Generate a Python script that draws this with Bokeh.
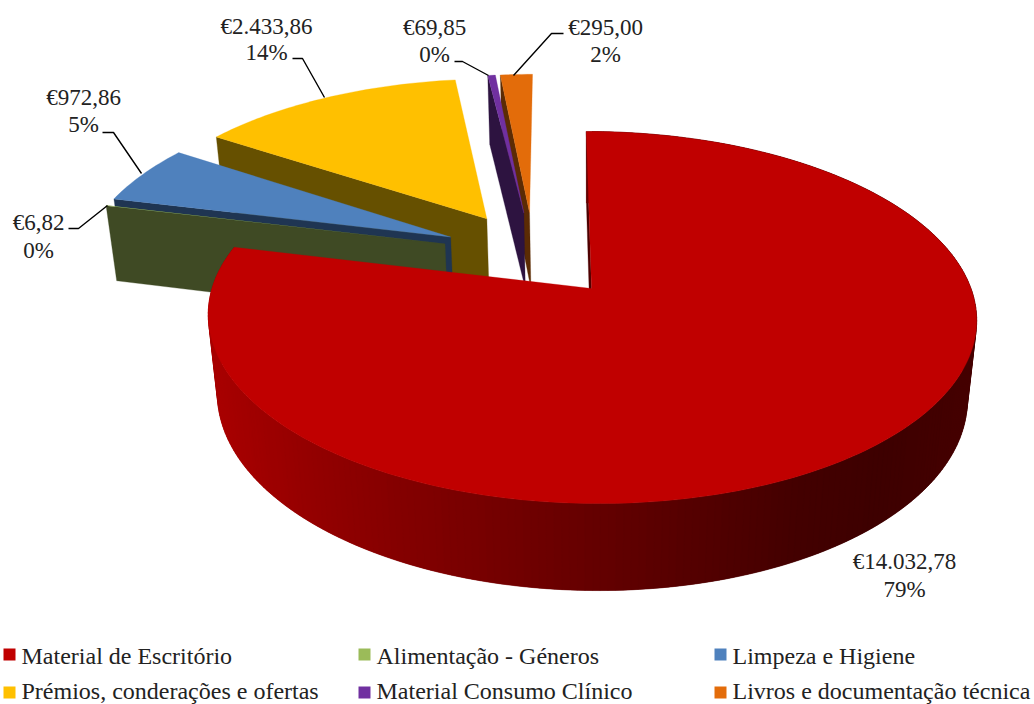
import math
from bokeh.plotting import figure
from bokeh.models import Range1d, ColumnDataSource
from bokeh.core.properties import value
from bokeh.embed import file_html
from bokeh.resources import INLINE

categories = ["Material de Escritório", "Alimentação - Géneros", "Limpeza e Higiene",
              "Prémios, conderações e ofertas", "Material Consumo Clínico", "Livros e documentação técnica"]
amounts = [14032.78, 6.82, 972.86, 2433.86, 69.85, 295.00]
amount_labels = ["€14.032,78", "€6,82", "€972,86", "€2.433,86", "€69,85", "€295,00"]
pct_labels = ["79%", "0%", "5%", "14%", "0%", "2%"]
top_colors = ["#C00000", "#9BBB59", "#4F81BD", "#FFC000", "#7030A0", "#E36C0A"]
wall_colors = ["#4d0000", "#3F4A24", "#1F3552", "#665000", "#2D1340", "#5B2B04"]

FONT = "Liberation Serif"
ROT, EXPLODE = 0.0, 0.25
CX, CY, RAD, PC, PA, SHEAR = 591.0, 288.0, 379.5, 0.156, -136.6, -6.0
T, VX, VY = 0.024, 590.0, 3650.0

def project(u, v):
    w = 1 + PC * v
    return CX + (RAD * u + SHEAR * v) / w, (PA * v + CY) / w, w

def top(pt):
    x, y, _ = project(*pt)
    return x, y

def bottom(pt):
    x, y, w = project(*pt)
    return (w * x + T * VX) / (w + T), (w * y + T * VY) / (w + T)

def polar(deg):
    r = math.radians(deg)
    return math.sin(r), math.cos(r)

total = sum(amounts)
spans, a0 = [], ROT
for val in amounts:
    a1 = a0 + 360 * val / total
    spans.append((a0, a1))
    a0 = a1

red_mid = polar(sum(spans[0]) / 2)
centre = (-EXPLODE * red_mid[0], -EXPLODE * red_mid[1])

def wedge_points(i):
    s, e = spans[i]
    d = polar((s + e) / 2)
    apex = (centre[0] + EXPLODE * d[0], centre[1] + EXPLODE * d[1])
    n = max(2, int((e - s) / 1.0) + 1)
    arc = []
    for k in range(n + 1):
        u, v = polar(s + (e - s) * k / n)
        arc.append((apex[0] + u, apex[1] + v))
    return apex, arc

STOPS = [(215, 168), (300, 150), (400, 132), (500, 116), (600, 100), (700, 84), (800, 68), (880, 62), (980, 70)]

def shade(x):
    for (x0, c0), (x1, c1) in zip(STOPS, STOPS[1:]):
        if x <= x1:
            f = max(0, (x - x0) / (x1 - x0))
            return "#%02x0000" % int(c0 + (c1 - c0) * f)
    return "#%02x0000" % STOPS[-1][1]

xs, ys, cols, lws = [], [], [], []

def add(pts, col, lw=0.3):
    xs.append([q[0] for q in pts])
    ys.append([q[1] for q in pts])
    cols.append(col)
    lws.append(lw)

for i in [5, 4, 3, 2, 1, 0]:
    apex, arc = wedge_points(i)
    first = arc[0]
    add([top(apex), top(first), bottom(first), bottom(apex)], wall_colors[i])
    if i == 0:
        for k in range(len(arc) - 1):
            p0, p1 = arc[k], arc[min(k + 2, len(arc) - 1)]
            q0, q1 = top(p0), top(arc[k + 1])
            add([top(p0), top(p1), bottom(p1), bottom(p0)], shade((q0[0] + q1[0]) / 2))
    add([top(apex)] + [top(q) for q in arc], top_colors[i], 0 if i == 1 else 0.3)

p = figure(width=1034, height=704, x_range=Range1d(0, 1034), y_range=Range1d(704, 0),
           output_backend="svg", toolbar_location=None, min_border=0)
p.axis.visible = False
p.grid.visible = False
p.outline_line_color = None
p.background_fill_color = "white"

p.patches("xs", "ys", source=ColumnDataSource(dict(xs=xs, ys=ys, c=cols, lw=lws)),
          fill_color="c", line_color="c", line_width="lw")

p.multi_line([[563, 551, 513], [454, 462, 488], [292, 302, 324], [102, 113, 141], [68, 78, 107]],
             [[33, 33, 75], [61, 61, 75], [58, 58, 97], [132, 132, 173], [228, 228, 205]],
             line_color="black", line_width=1.4)

pos = [(904, 561, 589), (38, 222, 250), (83, 97, 124), (266, 26, 52), (434, 27, 54), (605, 27, 54)]
for (x, y1, y2), a, b in zip(pos, amount_labels, pct_labels):
    p.text([x, x], [y1, y2], text=[a, b], text_font=value(FONT), text_font_size="23px",
           text_align="center", text_baseline="middle", text_color="#222222")

cols_x = [3, 358, 714]
rows_y = [654, 692]
for i, name in enumerate(categories):
    x = cols_x[i % 3]
    y = rows_y[i // 3]
    p.rect([x + 6], [y], width=12, height=12, fill_color=top_colors[i], line_color=None)
    p.text([x + 18], [y + 1 if i < 3 else y - 2], text=[name], text_font=value(FONT), text_font_size="24px",
           text_align="left", text_baseline="middle", text_color="#222222")

open("out.html", "w").write(file_html(p, INLINE))
